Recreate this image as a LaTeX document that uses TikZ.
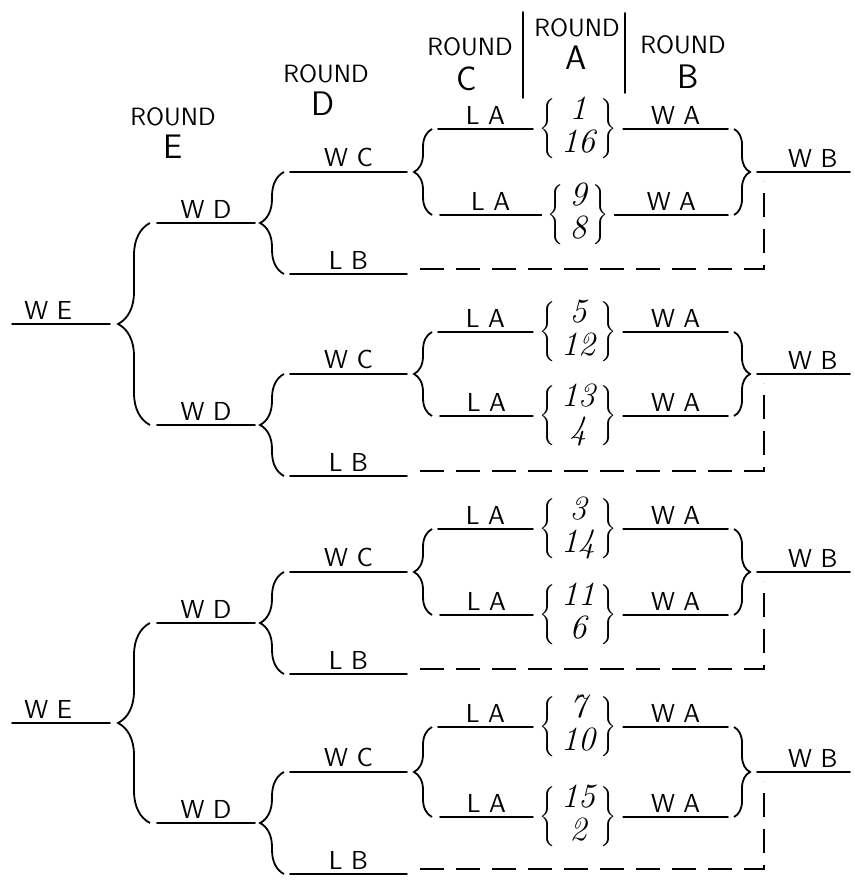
\documentclass[tikz,border=0pt]{standalone}
\usepackage{tikz}
\usetikzlibrary{decorations.pathreplacing}

\tikzset{
  bline/.style={line width=0.9pt, line cap=round},
  lbl/.style={above, inner sep=2pt, font=\sffamily\fontsize{13}{15}\selectfont},
  cbrace/.style={line width=0.9pt, decorate, decoration={brace, amplitude=#1}},
  dashline/.style={line width=0.8pt, dash pattern=on 12pt off 6pt},
  roundword/.style={font=\sffamily\fontsize{12.5}{14}\selectfont, inner sep=0pt},
  roundletter/.style={font=\sffamily\fontsize{17}{19}\selectfont, inner sep=0pt},
  pairnode/.style={inner sep=3pt, font=\fontsize{17}{16.5}\selectfont\itshape}
}
\newcommand{\seedpair}[2]{$\left\{\begin{tabular}{@{\,}c@{\,}}#1\\#2\end{tabular}\right\}$}

\begin{document}
\begin{tikzpicture}[x=0.5pt, y=-0.5pt]
\useasboundingbox (0,0) rectangle (855,882);

% column headings
\foreach \r/\xa/\ya/\xb/\yb in {E/173/117/173/147, D/326/74/323/104, C/470/47/467/79, A/577/28/576/58, B/683/45/688/77}{
  \node[roundword] (hd\r) at (\xa,\ya) {ROUND};
  \node[roundletter] (lt\r) at (\xb,\yb) {\r};
}
\draw[bline] (523,12) -- (523,98);
\draw[bline] (625,13) -- (625,93);

% one quarter of the draw per pass
\foreach \k/\ya/\yb/\sa/\sb/\sc/\sd in {1/129/215/1/16/9/8, 2/332/416/5/12/13/4, 3/529/615/3/14/11/6, 4/727/817/7/10/15/2}{
  \pgfmathsetmacro\yc{(\ya+\yb)/2}
  \pgfmathsetmacro\yd{\yc+51}
  \pgfmathsetmacro\yl{\yc+102}
  % round A
  \node[pairnode] (pa\k) at (578,\ya) {\seedpair{\sa}{\sb}};
  \node[pairnode] (pb\k) at (578,\yb) {\seedpair{\sc}{\sd}};
  \coordinate (laa\k) at (438,\ya);
  \coordinate (lab\k) at (440,\yb);
  \coordinate (waa\k) at (728,\ya);
  \coordinate (wab\k) at (728,\yb);
  \draw[bline] (laa\k) -- node[lbl] {L A} (pa\k.west);
  \draw[bline] (lab\k) -- node[lbl] {L A} (pb\k.west);
  \draw[bline] (pa\k.east) -- node[lbl] {W A} (waa\k);
  \draw[bline] (pb\k.east) -- node[lbl] {W A} (wab\k);
  % round B
  \draw[cbrace=8pt] (734,\ya) -- (734,\yb);
  \coordinate (wbs\k) at (757,\yc);
  \coordinate (wbe\k) at (850,\yc);
  \draw[bline] (wbs\k) -- node[lbl, pos=0.6] {W B} (wbe\k);
  % round C
  \draw[cbrace=9pt] (432,\yb) -- (432,\ya);
  \coordinate (wcs\k) at (290,\yc);
  \coordinate (wce\k) at (407,\yc);
  \draw[bline] (wcs\k) -- node[lbl] {W C} (wce\k);
  % round D
  \draw[cbrace=12pt] (284,\yl) -- (284,\yc);
  \coordinate (wds\k) at (157,\yd);
  \coordinate (wde\k) at (255,\yd);
  \draw[bline] (wds\k) -- node[lbl] {W D} (wde\k);
  \coordinate (lbs\k) at (290,\yl);
  \coordinate (lbe\k) at (407,\yl);
  \draw[bline] (lbs\k) -- node[lbl] {L B} (lbe\k);
  % loser of B drops back
  \coordinate (dsh\k) at (420,\yl-5);
  \coordinate (dup\k) at (764,\yc+9);
  \draw[dashline] (dsh\k) -| (dup\k);
  \coordinate (eb\k) at (150,\yd);
}

% round E
\draw[cbrace=16pt] (eb2) -- (eb1);
\draw[cbrace=16pt] (eb4) -- (eb3);
\coordinate (wes1) at (12,324);
\coordinate (wee1) at (110,324);
\coordinate (wes2) at (12,723);
\coordinate (wee2) at (110,723);
\draw[bline] (wes1) -- node[lbl, pos=0.37] {W E} (wee1);
\draw[bline] (wes2) -- node[lbl, pos=0.37] {W E} (wee2);
\end{tikzpicture}
\end{document}
